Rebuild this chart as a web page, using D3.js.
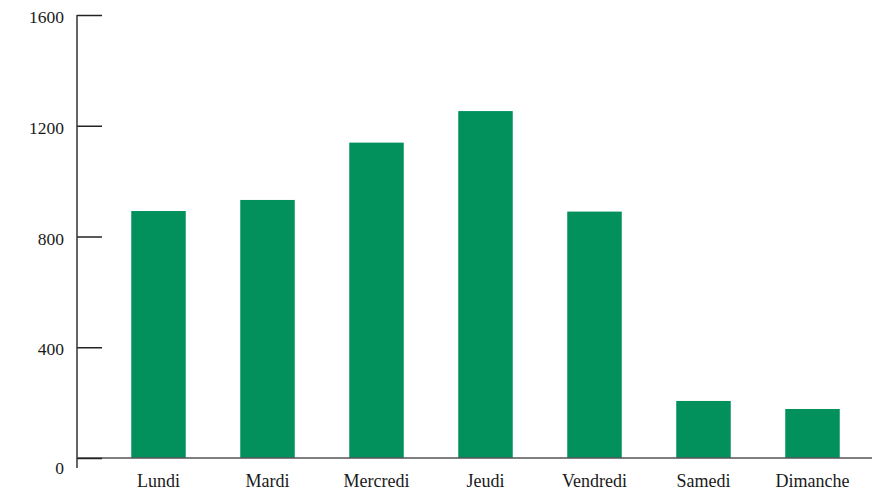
<!DOCTYPE html>
<html>
<head>
<meta charset="utf-8">
<script src="https://cdn.jsdelivr.net/npm/d3@7"></script>
<style>
  html, body { margin: 0; padding: 0; background: #fff; }
  svg { display: block; }
  text { font-family: "Liberation Serif", "Times New Roman", serif; fill: #1a1a1a; }
</style>
</head>
<body>
<svg id="chart" width="872" height="495"></svg>
<script>
const categories = ["Lundi", "Mardi", "Mercredi", "Jeudi", "Vendredi", "Samedi", "Dimanche"];
const values = [892, 932, 1139, 1253, 890, 206, 177];
const yTicks = [0, 400, 800, 1200, 1600];

const svg = d3.select("#chart");
const axisX = 77;
const x = d3.scaleBand().domain(categories).range([104, 867]).paddingInner(0.5).paddingOuter(0.25);
const y = d3.scaleLinear().domain([0, 1600]).range([458, 15]);

// bars
svg.append("g").selectAll("rect").data(values).join("rect")
  .attr("x", (d, i) => x(categories[i]))
  .attr("width", x.bandwidth())
  .attr("y", d => y(d))
  .attr("height", d => y(0) - y(d))
  .attr("fill", "#02915c");

// x axis baseline
svg.append("line")
  .attr("x1", axisX).attr("x2", 872)
  .attr("y1", y(0)).attr("y2", y(0))
  .attr("stroke", "#555").attr("stroke-width", 1.5);

// y axis
const yAxis = d3.axisRight(y).tickValues(yTicks).tickSize(25).tickSizeOuter(0).tickFormat("");
const gy = svg.append("g").attr("transform", `translate(${axisX},0)`).call(yAxis);
gy.select(".domain").remove();
gy.selectAll(".tick line").attr("stroke", "#222").attr("stroke-width", 1.5);
svg.append("line")
  .attr("x1", axisX).attr("x2", axisX)
  .attr("y1", y(1600)).attr("y2", y(0) + 10)
  .attr("stroke", "#333").attr("stroke-width", 1.5);

// y tick labels
svg.append("g").selectAll("text").data(yTicks).join("text")
  .attr("x", 64)
  .attr("y", d => y(d) + (d === 0 ? 10 : 2))
  .attr("dy", "0.35em")
  .attr("text-anchor", "end")
  .attr("font-size", 17.5)
  .text(d => d);

// x labels
svg.append("g").selectAll("text").data(categories).join("text")
  .attr("x", d => x(d) + x.bandwidth() / 2)
  .attr("y", 487)
  .attr("text-anchor", "middle")
  .attr("font-size", 18)
  .text(d => d);
</script>
</body>
</html>
